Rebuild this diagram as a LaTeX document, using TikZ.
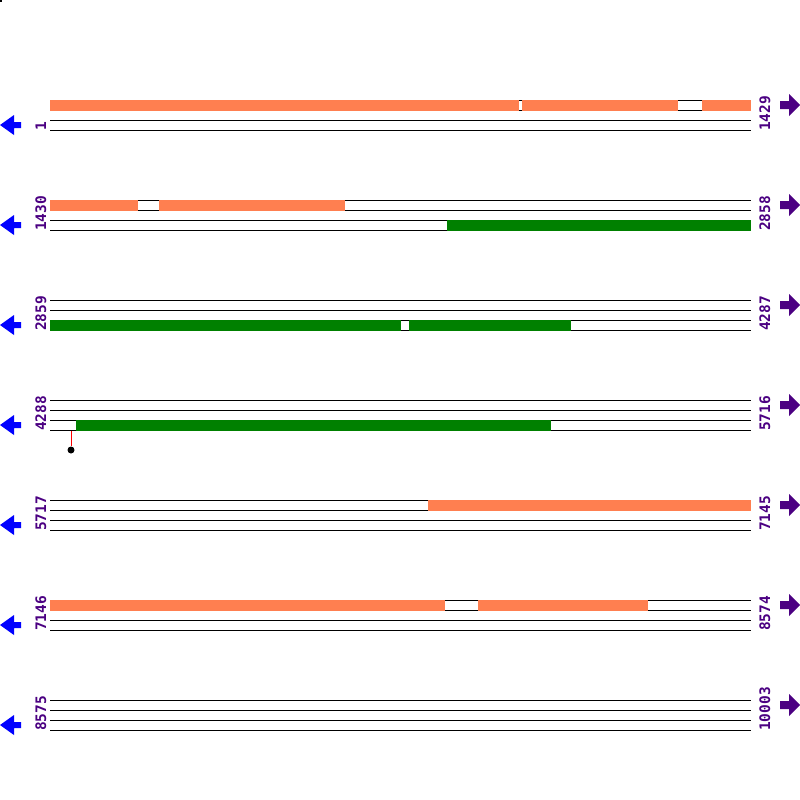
\documentclass[tikz,border=0pt]{standalone}
\usepackage{fontspec}
\newfontfamily\numfont{DejaVu Sans Mono}
\definecolor{coral}{RGB}{255,127,80}
\definecolor{fgreen}{RGB}{0,128,0}
\definecolor{indig}{RGB}{75,0,130}
\begin{document}
\begin{tikzpicture}[x=1pt,y=-1pt,
  strand/.style={line width=1pt,black},
  orbar/.style={fill=coral},
  grbar/.style={fill=fgreen},
  num/.style={font=\numfont\bfseries\fontsize{14.5}{15}\selectfont, text=indig, rotate=90, anchor=base west, inner sep=0pt},
  larrow/.style={fill=blue},
  rarrow/.style={fill=indig},
  pin/.style={red, line width=1pt}]
\useasboundingbox[fill=white] (0,0) rectangle (800,800);
\fill[black] (0,0) rectangle (2,2);
\foreach \k/\l/\r in {0/1/1429,1/1430/2858,2/2859/4287,3/4288/5716,4/5717/7145,5/7146/8574,6/8575/10003}{
  \pgfmathsetmacro{\yo}{100+100*\k}
  \foreach \d in {0,10,20,30}{
    \draw[strand] (50,\yo+\d) -- (751,\yo+\d);
  }
  \node[num] (L\k) at (46,\yo+31) {\l};
  \node[num] (R\k) at (770,\yo+31) {\r};
  \fill[larrow] (0,\yo+25) -- (14,\yo+15) -- (14,\yo+22) -- (21,\yo+22) -- (21,\yo+28) -- (14,\yo+28) -- (14,\yo+35) -- cycle;
  \fill[rarrow] (800,\yo+5) -- (789,\yo-6) -- (789,\yo+1) -- (780,\yo+1) -- (780,\yo+9) -- (789,\yo+9) -- (789,\yo+16) -- cycle;
}
% row 1
\fill[orbar] (50,99.5) rectangle (519,110.5);
\fill[orbar] (522,99.5) rectangle (678,110.5);
\fill[orbar] (702,99.5) rectangle (751,110.5);
% row 2
\fill[orbar] (50,199.5) rectangle (138,210.5);
\fill[orbar] (159,199.5) rectangle (345,210.5);
\fill[grbar] (447,219.5) rectangle (751,230.5);
% row 3
\fill[grbar] (50,319.5) rectangle (401,330.5);
\fill[grbar] (409,319.5) rectangle (571,330.5);
% row 4
\fill[grbar] (76,419.5) rectangle (551,430.5);
\coordinate (pintop) at (71,430.5);
\node[circle, fill=black, inner sep=0pt, minimum size=7pt] (pinhead) at (71,450) {};
\draw[pin] (pintop) -- (pinhead.north);
% row 5
\fill[orbar] (428,499.5) rectangle (751,510.5);
% row 6
\fill[orbar] (50,599.5) rectangle (445,610.5);
\fill[orbar] (478,599.5) rectangle (648,610.5);
\end{tikzpicture}
\end{document}
